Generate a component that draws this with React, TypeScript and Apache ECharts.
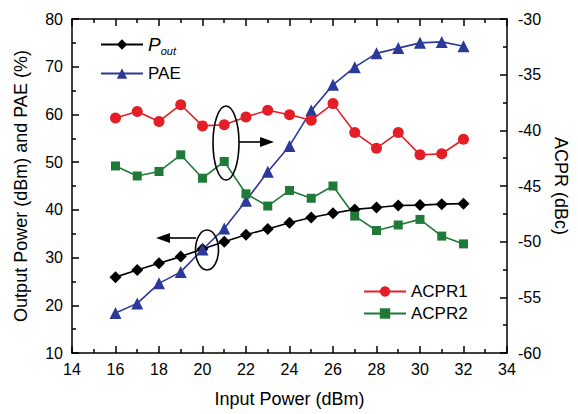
import React, { useEffect, useRef } from "react";
import * as echarts from "echarts";

const inputPower = [16, 17, 18, 19, 20, 21, 22, 23, 24, 25, 26, 27, 28, 29, 30, 31, 32];
const pout = [25.9, 27.4, 28.8, 30.2, 31.8, 33.3, 34.8, 36.0, 37.3, 38.4, 39.3, 40.1, 40.5, 40.9, 41.0, 41.2, 41.3];
const pae = [18.4, 20.4, 24.6, 27.0, 31.7, 36.1, 41.9, 48.0, 53.4, 60.8, 66.2, 69.9, 72.8, 73.9, 75.0, 75.2, 74.3];
const acpr1 = [-38.9, -38.3, -39.2, -37.7, -39.6, -39.5, -38.8, -38.2, -38.6, -39.1, -37.6, -40.2, -41.6, -40.2, -42.2, -42.1, -40.8];
const acpr2 = [-43.2, -44.1, -43.7, -42.2, -44.3, -42.8, -45.7, -46.8, -45.4, -46.1, -45.0, -47.7, -49.0, -48.5, -48.0, -49.5, -50.2];

const FONT = "'Liberation Sans', Arial, sans-serif";
const BLACK = "#000000";
const BLUE = "#2b3a98";
const RED = "#e31e26";
const GREEN = "#1f7a38";

const pairs = (ys: number[]) => inputPower.map((x, i) => [x, ys[i]]);

export default function App() {
  const ref = useRef<HTMLDivElement>(null);
  useEffect(() => {
    if (!ref.current) return;
    const chart = echarts.init(ref.current, null, { renderer: "svg" });
    const axisLine = { show: true, lineStyle: { color: BLACK, width: 1.5 } };
    const axisTick = { show: true, inside: true, length: 7, lineStyle: { color: BLACK, width: 1.5 } };
    const minorTick = { show: true, splitNumber: 2, length: 4, lineStyle: { color: BLACK, width: 1.5 } };
    const axisLabel = { color: BLACK, fontSize: 16, fontFamily: FONT };
    const lineSeries = (name: string, ys: number[], color: string, symbol: string, size: number, yAxisIndex: number) => ({
      name,
      type: "line",
      data: pairs(ys),
      yAxisIndex,
      symbol,
      symbolSize: size,
      itemStyle: { color },
      lineStyle: { color, width: 1.6 },
      z: 3,
    });
    const legendBase = {
      orient: "vertical",
      itemWidth: 42,
      itemHeight: 13,
      itemGap: 4,
      padding: 0,
      textStyle: { fontSize: 17, fontFamily: FONT, color: BLACK },
    };
    chart.setOption({
      animation: false,
      backgroundColor: "#ffffff",
      grid: { left: 72, right: 65, top: 19, bottom: 61, containLabel: false },
      xAxis: [
        {
          type: "value",
          position: "bottom",
          min: 14,
          max: 34,
          interval: 2,
          axisLine,
          axisTick,
          minorTick,
          splitLine: { show: false },
          axisLabel: { ...axisLabel, margin: 8 },
          name: "Input Power (dBm)",
          nameLocation: "middle",
          nameGap: 37,
          nameTextStyle: { fontSize: 18, fontFamily: FONT, color: BLACK },
        },
        {
          type: "value",
          position: "top",
          min: 14,
          max: 34,
          interval: 2,
          axisLine,
          axisTick,
          minorTick,
          splitLine: { show: false },
          axisLabel: { show: false },
        },
      ],
      yAxis: [
        {
          type: "value",
          position: "left",
          min: 10,
          max: 80,
          interval: 10,
          axisLine,
          axisTick,
          minorTick,
          splitLine: { show: false },
          axisLabel: { ...axisLabel, margin: 9 },
          name: "Output Power (dBm) and PAE (%)",
          nameLocation: "middle",
          nameGap: 42,
          nameTextStyle: { fontSize: 18, fontFamily: FONT, color: BLACK },
        },
        {
          type: "value",
          position: "right",
          min: -60,
          max: -30,
          interval: 5,
          axisLine,
          axisTick,
          minorTick,
          splitLine: { show: false },
          axisLabel: { ...axisLabel, margin: 11 },
          name: "ACPR (dBc)",
          nameLocation: "middle",
          nameGap: 44,
          nameRotate: -90,
          nameTextStyle: { fontSize: 18, fontFamily: FONT, color: BLACK },
        },
      ],
      legend: [
        {
          ...legendBase,
          left: 100,
          top: 35,
          data: ["Pout"],
          formatter: () => "{i|P}{s|out}",
          textStyle: {
            ...legendBase.textStyle,
            rich: {
              i: { fontSize: 19, fontStyle: "italic", fontFamily: FONT, color: BLACK },
              s: { fontSize: 11, fontStyle: "italic", fontFamily: FONT, color: BLACK, padding: [12, 0, 0, 0] },
            },
          },
        },
        { ...legendBase, left: 100, top: 65, data: ["PAE"] },
        { ...legendBase, left: 363, top: 283, data: ["ACPR1"] },
        { ...legendBase, left: 363, top: 305, data: ["ACPR2"] },
      ],
      series: [
        lineSeries("Pout", pout, BLACK, "diamond", 12, 0),
        lineSeries("PAE", pae, BLUE, "triangle", 12, 0),
        lineSeries("ACPR1", acpr1, RED, "circle", 11, 1),
        lineSeries("ACPR2", acpr2, GREEN, "rect", 9, 1),
      ],
      graphic: [
        { type: "ellipse", shape: { cx: 226, cy: 143, rx: 13, ry: 37 }, style: { fill: "none", stroke: BLACK, lineWidth: 1.6 }, z: 10 },
        { type: "line", shape: { x1: 239, y1: 142, x2: 262, y2: 142 }, style: { stroke: BLACK, lineWidth: 1.6 }, z: 10 },
        { type: "polygon", shape: { points: [[260, 137], [274, 142], [260, 147]] }, style: { fill: BLACK }, z: 10 },
        { type: "ellipse", shape: { cx: 207, cy: 250, rx: 11.5, ry: 20 }, style: { fill: "none", stroke: BLACK, lineWidth: 1.6 }, z: 10 },
        { type: "line", shape: { x1: 196, y1: 238, x2: 168, y2: 238 }, style: { stroke: BLACK, lineWidth: 1.6 }, z: 10 },
        { type: "polygon", shape: { points: [[170, 233], [156, 238], [170, 243]] }, style: { fill: BLACK }, z: 10 },
      ],
    });
    return () => chart.dispose();
  }, []);
  return <div ref={ref} style={{ width: 578, height: 414, position: "absolute", left: 0, top: 0 }} />;
}
